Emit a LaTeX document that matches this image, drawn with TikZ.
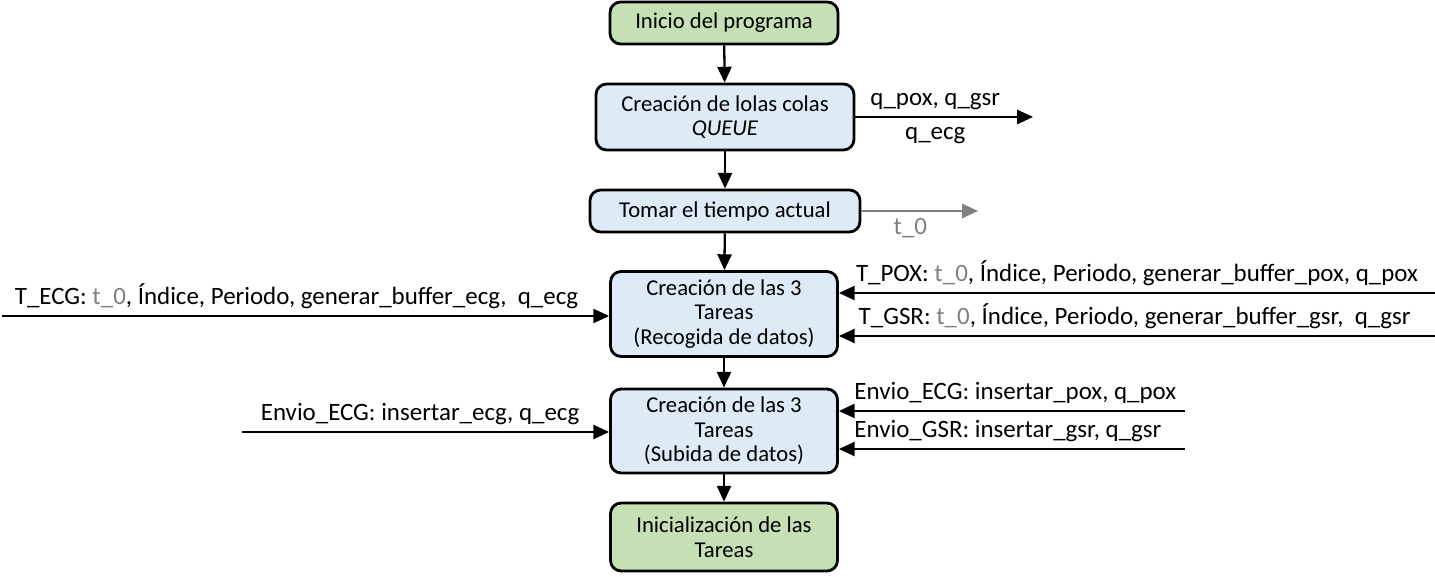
\documentclass[tikz,border=0pt]{standalone}
\usepackage{fontspec}
\setmainfont{Carlito}
\usetikzlibrary{arrows.meta}
\definecolor{verde}{HTML}{C5E0B4}
\definecolor{azul}{HTML}{DEEBF7}
\definecolor{gris}{HTML}{808080}
\tikzset{
  caja/.style={draw, line width=1.6pt, rounded corners=6pt, align=center, inner sep=2pt, font=\fontsize{12.9}{14}\selectfont},
  inicio/.style={caja, fill=verde},
  proceso/.style={caja, fill=azul},
  flecha/.style={-{Triangle[length=9pt,width=8pt]}, line width=1.3pt},
  etiqueta/.style={font=\fontsize{14.2}{16}\selectfont},
}
\begin{document}
\begin{tikzpicture}[x=0.02cm,y=-0.02cm,line join=round]
  \useasboundingbox (0,0) rectangle (1435,577);
  %Cajas del flujo
  \node[inicio, minimum width=4.56cm, minimum height=0.84cm] (ini) at (724,23) {Inicio del programa};
  \node[proceso, minimum width=5.16cm, minimum height=1.32cm] (colas) at (725,117) {Creación de lolas colas\\\textit{QUEUE}};
  \node[proceso, minimum width=5.40cm, minimum height=0.84cm] (tiempo) at (725,211) {Tomar el tiempo actual};
  \node[proceso, minimum width=4.54cm, minimum height=1.70cm] (recog) at (724,314) {Creación de las 3\\Tareas\\(Recogida de datos)};
  \node[proceso, minimum width=4.54cm, minimum height=1.68cm] (subida) at (724,431) {Creación de las 3\\Tareas\\(Subida de datos)};
  \node[inicio, minimum width=4.54cm, minimum height=1.36cm] (tareas) at (724,537) {Inicialización de las\\Tareas};
  %Extremos libres
  \coordinate (qout) at (1033,117);
  \coordinate (tout) at (978,211);
  \coordinate (ecgin) at (2,316);
  \coordinate (poxin) at (1435,293);
  \coordinate (gsrin) at (1435,336);
  \coordinate (envecg) at (242,432);
  \coordinate (envpox) at (1185,411);
  \coordinate (envgsr) at (1185,449);
  %Flechas verticales
  \draw[flecha] (ini) -- (colas);
  \draw[flecha] (colas) -- (tiempo);
  \draw[flecha] (tiempo) -- (recog);
  \draw[flecha] (recog) -- (subida);
  \draw[flecha] (subida) -- (tareas);
  %Salidas
  \draw[flecha] (colas.east) -- (qout) node[etiqueta, above, pos=0.45]{q\_pox, q\_gsr} node[etiqueta, below, pos=0.45, yshift=-2pt]{q\_ecg};
  \draw[flecha, gris] (tiempo.east) -- (tout) node[etiqueta, below, pos=0.42, text=gris]{t\_0};
  %Entradas de las tareas
  \draw[flecha] (ecgin) -- (ecgin -| recog.west) node[etiqueta, above, pos=0.485]{T\_ECG: \textcolor{gris}{t\_0}, Índice, Periodo, generar\_buffer\_ecg, \ q\_ecg};
  \draw[flecha] (poxin) -- (poxin -| recog.east) node[etiqueta, above, pos=0.5]{T\_POX: \textcolor{gris}{t\_0}, Índice, Periodo, generar\_buffer\_pox, q\_pox};
  \draw[flecha] (gsrin) -- (gsrin -| recog.east) node[etiqueta, above, pos=0.504]{T\_GSR: \textcolor{gris}{t\_0}, Índice, Periodo, generar\_buffer\_gsr, \ q\_gsr};
  \draw[flecha] (envecg) -- (envecg -| subida.west) node[etiqueta, above, pos=0.485]{Envio\_ECG: insertar\_ecg, q\_ecg};
  \draw[flecha] (envpox) -- (envpox -| subida.east) node[etiqueta, anchor=south west, pos=1, xshift=0.17cm]{Envio\_ECG: insertar\_pox, q\_pox};
  \draw[flecha] (envgsr) -- (envgsr -| subida.east) node[etiqueta, anchor=south west, pos=1, xshift=0.17cm]{Envio\_GSR: insertar\_gsr, q\_gsr};
\end{tikzpicture}
\end{document}
